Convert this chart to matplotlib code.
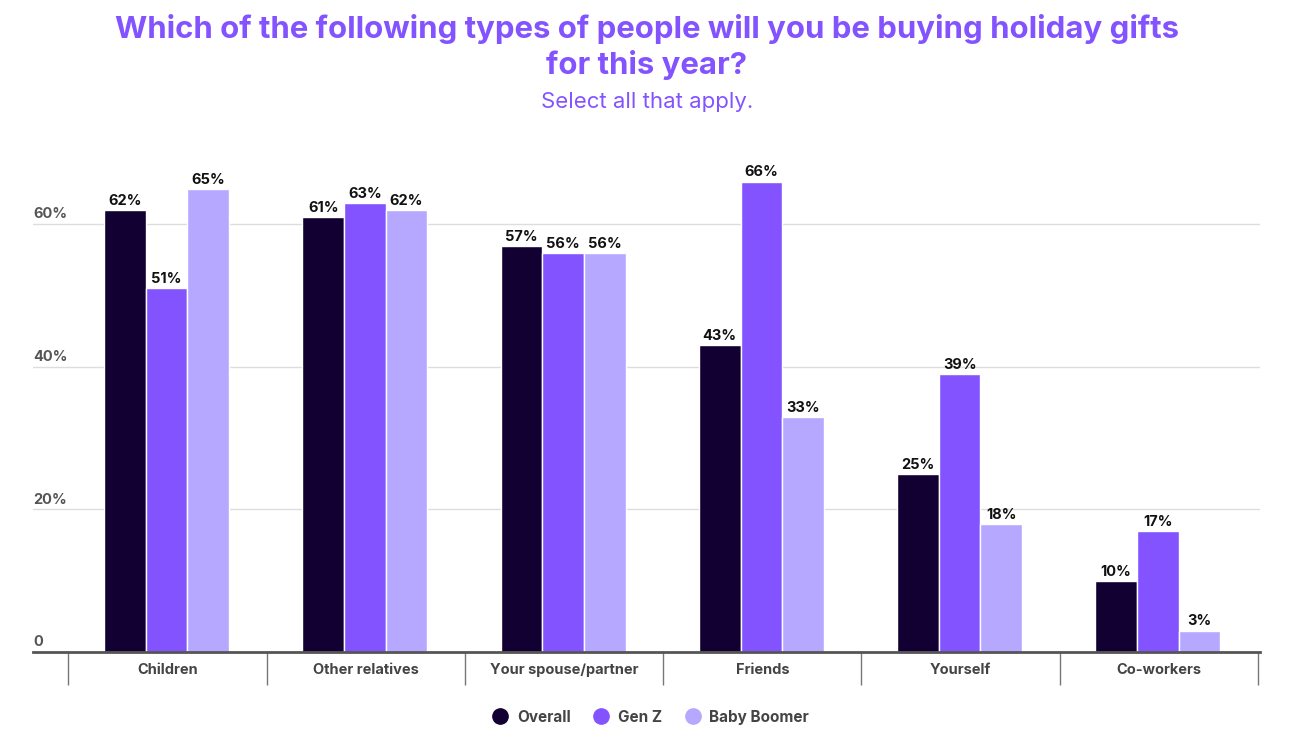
import matplotlib.pyplot as plt
import numpy as np

categories = ['Children', 'Other relatives', 'Your spouse/partner', 'Friends', 'Yourself', 'Co-workers']
overall = [62, 61, 57, 43, 25, 10]
gen_z = [51, 63, 56, 66, 39, 17]
baby_boomer = [65, 62, 56, 33, 18, 3]
series_names = ['Overall', 'Gen Z', 'Baby Boomer']
colors = ['#120033', '#8353FF', '#B6A7FF']
yticks = [0, 20, 40, 60]
ytick_labels = ['0', '20%', '40%', '60%']

plt.rcParams['font.family'] = ['Inter', 'DejaVu Sans']

fig = plt.figure(figsize=(12.94, 7.41), dpi=100)
ax = fig.add_axes([0.0255, 0.1201, 0.9482, 0.6734])

x = np.arange(len(categories))
width = 0.21
for i, (vals, name, c) in enumerate(zip([overall, gen_z, baby_boomer], series_names, colors)):
    pos = x - 0.005 + (i - 1) * width
    ax.bar(pos, vals, width, color=c, edgecolor='white', linewidth=1, label=name, zorder=3)
    for px, v in zip(pos, vals):
        ax.text(px, v + 0.3, f'{v}%', ha='center', va='bottom', fontsize=10.5,
                fontweight='bold', color='#111111', zorder=4)

ax.set_xlim(-0.679, 5.51)
ax.set_ylim(0, 70)

# gridlines + y labels sitting above them
for t, lab in zip(yticks, ytick_labels):
    if t > 0:
        ax.axhline(t, color='#dddddd', linewidth=1, zorder=1)
    ax.text(0.0, t + 0.4, lab, transform=ax.get_yaxis_transform(), ha='left', va='bottom',
            fontsize=10.5, fontweight='bold', color='#555555')

ax.set_yticks([])
ax.set_xticks(x)
ax.set_xticklabels(categories, fontsize=10.5, fontweight='bold', color='#444444')
ax.tick_params(axis='x', length=0, pad=8)

for s in ['top', 'right', 'left']:
    ax.spines[s].set_visible(False)
ax.spines['bottom'].set_color('#555555')
ax.spines['bottom'].set_linewidth(2)
ax.spines['bottom'].set_zorder(5)

# category separators below the axis
ax.vlines(np.arange(-0.5, 6, 1), 0, -0.066, transform=ax.get_xaxis_transform(),
          color='#777777', linewidth=1, clip_on=False)

fig.text(0.5, 0.937, 'Which of the following types of people will you be buying holiday gifts\nfor this year?',
         ha='center', va='center', fontsize=22.4, fontweight='bold', color='#8353FF', linespacing=1.25)
fig.text(0.5, 0.862, 'Select all that apply.', ha='center', va='center', fontsize=16, color='#8353FF')

leg = fig.legend(handles=[plt.Line2D([], [], marker='o', linestyle='', markersize=11, color=c) for c in colors],
                 labels=series_names, loc='center', bbox_to_anchor=(0.5, 0.032), ncol=3, frameon=False,
                 handletextpad=0.1, columnspacing=1.0, prop={'weight': 'bold', 'size': 11})
for t in leg.get_texts():
    t.set_color('#444444')

fig.savefig('out.png', dpi=100)
